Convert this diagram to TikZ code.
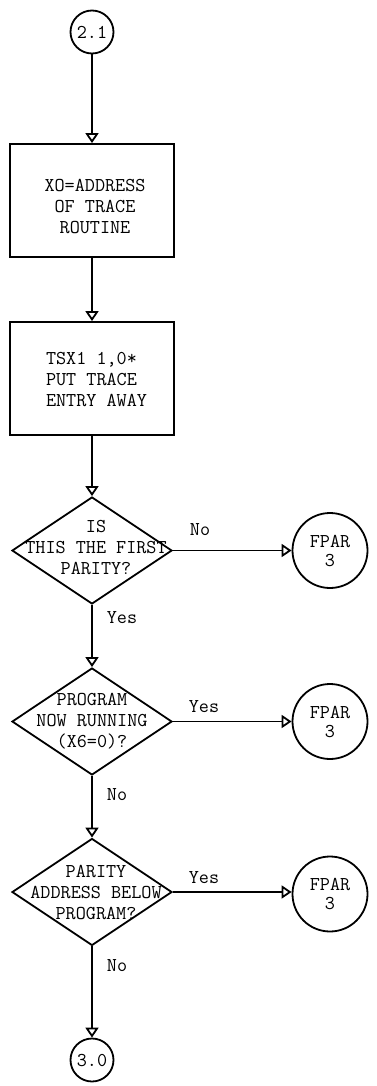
\documentclass[tikz,border=0pt]{standalone}
\usetikzlibrary{shapes.geometric,arrows.meta}
\begin{document}
\begin{tikzpicture}[x=1pt,y=-1pt,line width=1.8pt,
  every node/.style={font=\fontsize{19.6}{21}\selectfont\ttfamily},
  procbox/.style={draw,rectangle,minimum width=164pt,minimum height=113pt,inner sep=0pt},
  decbox/.style={draw,diamond,minimum width=160pt,minimum height=107pt,inner sep=0pt},
  txt/.style={inner sep=0pt,align=center},
  txtl/.style={inner sep=0pt,align=left},
  conn/.style={draw,circle,inner sep=0pt,minimum size=43pt},
  offpage/.style={draw,circle,inner sep=0pt,minimum size=75pt,align=center,
     font=\fontsize{19.6}{19}\selectfont\ttfamily},
  lbl/.style={inner sep=0pt},
  flow/.style={-{Triangle[open,width=13pt,length=10pt]}}]
\useasboundingbox (0,0) rectangle (377,1086);

\node[conn] (c21) at (92,32) {2.1};
\node[procbox] (b1) at (92,200.5) {};
\node[txt] (b1t) at (95,206) {XO=ADDRESS\\OF TRACE\\ROUTINE};
\node[procbox] (b2) at (92,378.5) {};
\node[txtl] (b2t) at (96.5,380) {TSX1 1,0*\\PUT TRACE\\ENTRY AWAY};

\node[decbox] (d1) at (92,550.5) {};
\node[txt] (d1t) at (96,548) {IS\\THIS THE FIRST\\PARITY?};
\node[decbox] (d2) at (92,721.5) {};
\node[txt] (d2t) at (92,721) {PROGRAM\\NOW RUNNING\\(X6=0)?};
\node[decbox] (d3) at (92,892) {};
\node[txt] (d3t) at (96,892) {PARITY\\ADDRESS BELOW\\PROGRAM?};

\node[offpage] (f1) at (330,550.5) {FPAR\\3};
\node[offpage] (f2) at (330,721.5) {FPAR\\3};
\node[offpage] (f3) at (330,894) {FPAR\\3};

\node[conn] (c30) at (92,1060) {3.0};

\draw[flow] (c21) -- (b1);
\draw[flow] (b1) -- (b2);
\draw[flow] (b2) -- (d1.north);
\draw[flow] (d1.south) -- (d2.north);
\draw[flow] (d2.south) -- (d3.north);
\draw[flow] (d3.south) -- (c30);
\draw[flow] (d1.east) -- (d1.east -| f1.west);
\draw[flow] (d2.east) -- (d2.east -| f2.west);
\draw[flow] (d3.east) -- (d3.east -| f3.west);

\node[lbl] (l1) at (200,530) {No};
\node[lbl] (l2) at (122,618) {Yes};
\node[lbl] (l3) at (204,707) {Yes};
\node[lbl] (l4) at (117,795) {No};
\node[lbl] (l5) at (204,878) {Yes};
\node[lbl] (l6) at (117,966) {No};
\end{tikzpicture}
\end{document}
